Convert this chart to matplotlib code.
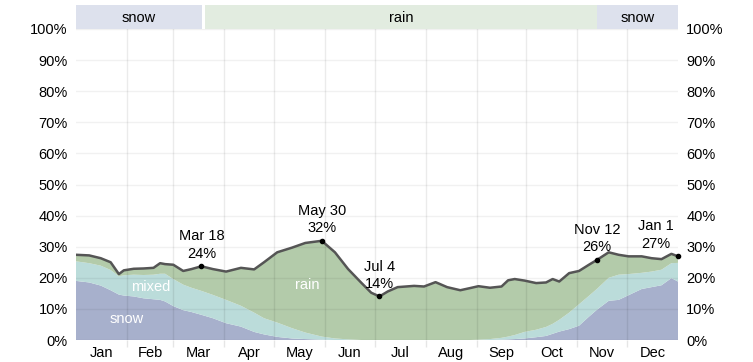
import numpy as np
import matplotlib.pyplot as plt

plt.rcParams['font.family'] = ['Liberation Sans', 'DejaVu Sans']

# dia del año y probabilidad (%) de cada tipo de precipitación
days = [0, 8, 15, 21, 26, 29, 35, 41, 47, 51, 54, 59, 65, 70, 76, 83, 91, 100, 108,
        114, 122, 131, 139, 149, 157, 165, 173, 179, 184, 189, 195, 205, 211, 218,
        225, 233, 239, 244, 251, 258, 262, 266, 272, 279, 285, 289, 293, 299, 305,
        311, 316, 323, 329, 335, 343, 349, 355, 361, 365]
snow = [19.0, 18.5, 17.5, 16.0, 14.6, 14.3, 14.0, 13.4, 13.1, 12.9, 12.4, 10.9, 9.6,
        9.0, 8.1, 7.0, 5.4, 4.3, 2.6, 1.8, 1.0, 0.5, 0.3, 0.1, 0.0, 0.0, 0.0, 0.0,
        0.0, 0.0, 0.0, 0.0, 0.0, 0.0, 0.0, 0.0, 0.0, 0.0, 0.0, 0.1, 0.2, 0.3, 0.5,
        0.9, 1.3, 2.0, 2.7, 3.5, 4.6, 7.5, 9.8, 12.6, 12.9, 14.4, 16.4, 17.0, 17.6,
        19.9, 18.8]
mixed = [6.3, 6.2, 6.4, 6.5, 5.9, 6.5, 7.0, 7.5, 7.9, 8.4, 8.9, 8.7, 8.2, 7.8, 7.7,
         7.5, 7.5, 6.7, 6.2, 5.2, 4.6, 3.3, 2.1, 1.0, 0.5, 0.2, 0.0, 0.0, 0.0, 0.0,
         0.0, 0.0, 0.0, 0.0, 0.0, 0.0, 0.0, 0.1, 0.3, 0.6, 0.9, 1.3, 2.1, 2.4, 2.9,
         3.2, 3.8, 5.3, 6.9, 6.7, 6.7, 7.4, 8.1, 6.8, 5.2, 5.0, 5.0, 4.8, 6.0]
rain = [2.1, 2.5, 2.4, 2.5, 0.7, 1.6, 1.9, 2.1, 2.2, 3.4, 3.1, 4.6, 4.4, 6.0, 7.9,
        8.3, 9.1, 12.2, 13.9, 18.0, 22.6, 25.9, 28.8, 30.8, 27.7, 22.6, 18.4, 15.2,
        14.0, 15.6, 17.0, 17.4, 17.2, 18.6, 17.0, 16.0, 16.7, 17.2, 16.5, 16.5,
        18.1, 18.0, 16.5, 15.0, 14.3, 14.4, 12.3, 12.7, 10.7, 10.0, 9.3, 8.2, 6.4,
        5.7, 5.3, 4.3, 3.4, 3.0, 2.1]

months = ['Jan', 'Feb', 'Mar', 'Apr', 'May', 'Jun', 'Jul', 'Aug', 'Sep', 'Oct', 'Nov', 'Dec']
month_starts = [0, 31, 59, 90, 120, 151, 181, 212, 243, 273, 304, 334, 365]

mark_days = [76, 149, 184, 316, 365]
mark_names = ['Mar 18', 'May 30', 'Jul 4', 'Nov 12', 'Jan 1']
mark_pcts = [24, 32, 14, 26, 27]

season_names = ['snow', 'rain', 'snow']
season_start = [0, 78.5, 316]
season_end = [76.5, 316, 365]

c_snow = '#a7b0cc'
c_mixed = '#bbdcda'
c_rain = '#b3cbaa'
band_col = {'snow': '#dde1ed', 'rain': '#e2ece0'}

d = np.array(days)
total = np.array(snow) + np.array(mixed) + np.array(rain)

fig = plt.figure(figsize=(7.53, 3.62), dpi=100)
ax = fig.add_axes([76 / 753, 1 - 340 / 362, 602 / 753, 311 / 362])
ax.stackplot(d, snow, mixed, rain, colors=[c_snow, c_mixed, c_rain], linewidth=0)
ax.plot(d, total, color='#555555', lw=1.8, zorder=4)

ax.set_xlim(0, 365)
ax.set_ylim(0, 100)
for s in ax.spines.values():
    s.set_visible(False)

yt = np.arange(0, 101, 10)
ax.set_yticks(yt)
ax.set_yticklabels([f'{v}%' for v in yt], fontsize=10.5)
ax.tick_params(axis='y', length=0, pad=6, labelright=True)
ax.set_xticks(month_starts[1:-1])
ax.set_xticklabels([])
ax.tick_params(axis='x', length=5, color='#e6e6e6', width=1)
mids = [(month_starts[i] + month_starts[i + 1]) / 2 for i in range(12)]
ax.set_xticks(mids, minor=True)
ax.set_xticklabels(months, minor=True, fontsize=10.5)
ax.tick_params(axis='x', which='minor', length=0, pad=4)

for v in yt:
    ax.axhline(v, color='black', alpha=0.055, lw=1, zorder=3)
for m in month_starts[1:-1]:
    ax.axvline(m, color='black', alpha=0.08, lw=1, zorder=3)

# etiquetas de las areas
ax.text(30.8, 6.8, 'snow', color='white', fontsize=10.5, ha='center', va='center', zorder=5)
ax.text(45.5, 17.0, 'mixed', color='white', fontsize=10.5, ha='center', va='center', zorder=5)
ax.text(140, 17.7, 'rain', color='white', fontsize=10.5, ha='center', va='center', zorder=5)

# puntos destacados
for md, name, pct in zip(mark_days, mark_names, mark_pcts):
    y = np.interp(md, d, total)
    ax.plot(md, y, 'o', color='black', ms=3, zorder=6, clip_on=False)
    dx = -16 if md >= 360 else 0
    ax.annotate(f'{name}\n{pct}%', (md, y), xytext=(dx, 4), textcoords='offset points',
                ha='center', va='bottom', fontsize=10.5, linespacing=1.3, zorder=6)

# banda superior
bx = fig.add_axes([76 / 753, 1 - 29 / 362, 602 / 753, 24 / 362])
for nm, a, b in zip(season_names, season_start, season_end):
    bx.axvspan(a, b, color=band_col[nm], lw=0)
    bx.text((a + b) / 2, 0.45, nm, ha='center', va='center', fontsize=10.5)
bx.set_xlim(0, 365)
bx.set_ylim(0, 1)
bx.axis('off')

fig.savefig('out.png', dpi=100)
